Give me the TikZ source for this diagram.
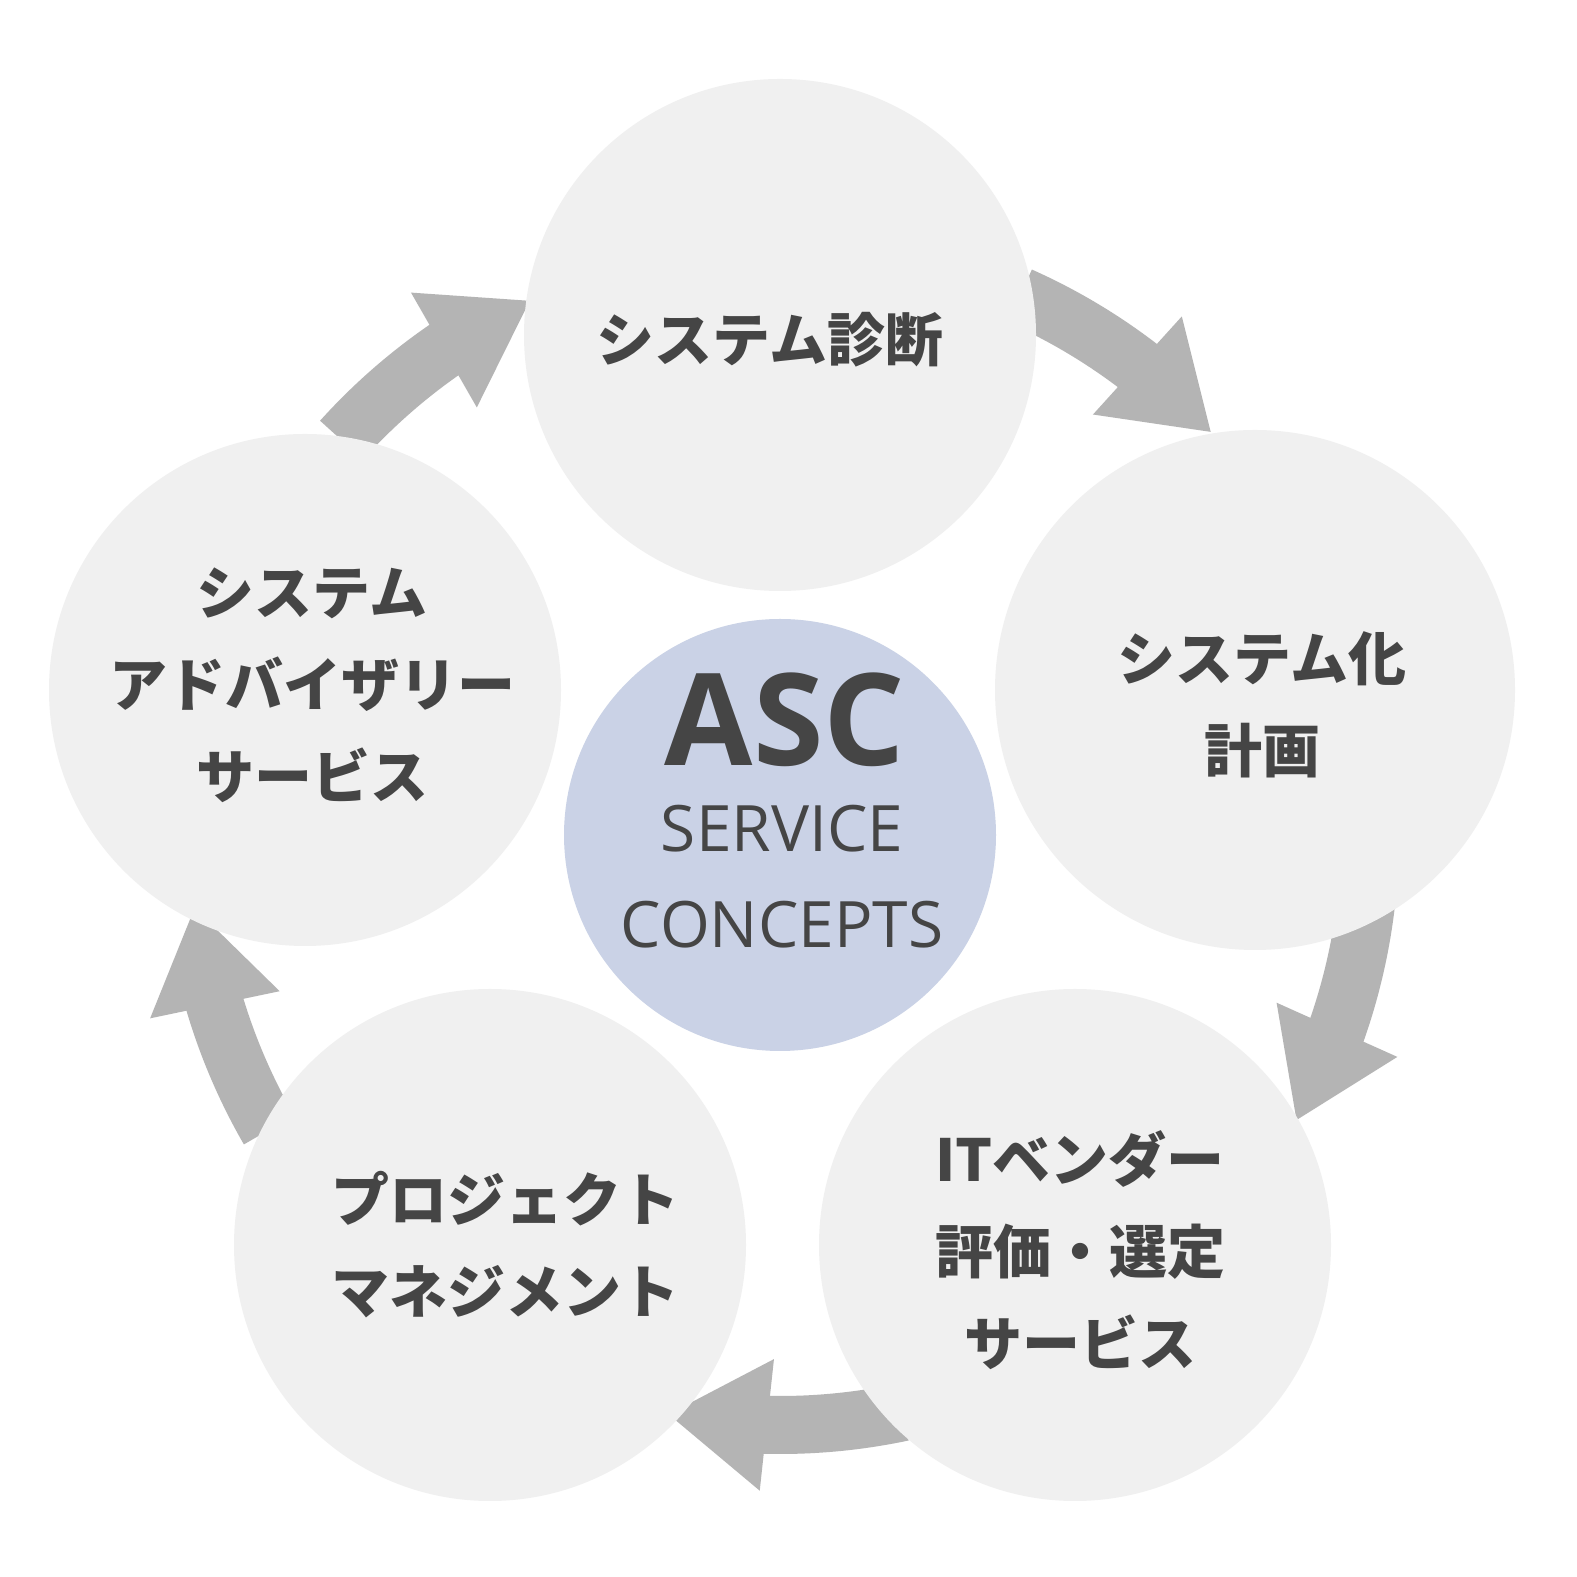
\documentclass[tikz,border=0pt]{standalone}
\usepackage{fontspec}
\newfontfamily\cjk{Noto Sans CJK JP}
\setsansfont{Open Sans}
\usetikzlibrary{arrows.meta,bending}
\definecolor{cbg}{HTML}{F0F0F0}
\definecolor{cmid}{HTML}{CAD2E6}
\definecolor{ctxt}{HTML}{454545}
\definecolor{carr}{HTML}{B4B4B4}
\tikzset{
  bub/.style={circle,fill=cbg,minimum size=#1},
  jtxt/.style={text=ctxt,align=center,font=\cjk\bfseries\fontsize{58}{92}\selectfont},
  arr/.style={draw=carr,line width=58pt,-{Triangle[length=100pt,width=125pt,flex]}}
}
\begin{document}
\begin{tikzpicture}[x=1pt,y=1pt]
\useasboundingbox (0,0) rectangle (1577,1577);
\fill[white] (0,0) rectangle (1577,1577);
\coordinate (o) at (780,742);
\foreach \a in {138,66,-6,-78,-150}{
  \draw[arr] (o) ++(\a:590) arc[start angle=\a,end angle=\a-23,radius=590];
}
\node[bub=512pt] (c1) at (780,1242) {};
\node[bub=520pt] (c2) at (1255,887) {};
\node[bub=512pt] (c3) at (1075,332) {};
\node[bub=512pt] (c4) at (490,332) {};
\node[bub=512pt] (c5) at (305,887) {};
\node[circle,fill=cmid,minimum size=432pt] (cm) at (o) {};
\node[jtxt] (t1) at (770,1237) {システム診断};
\node[jtxt] (t2) at (1262,872) {システム化\\計画};
\node[jtxt] (t3) at (1080,327) {ITベンダー\\評価・選定\\サービス};
\node[jtxt] (t4) at (505,332) {プロジェクト\\マネジメント};
\node[jtxt] (t5) at (312,892) {システム\\アドバイザリー\\サービス};
\node[text=ctxt,font=\sffamily\bfseries\fontsize{128}{128}\selectfont] (asc) at (785,857) {ASC};
\node[text=ctxt,align=center,font=\sffamily\fontsize{64}{96}\selectfont] (sc) at (782,700) {SERVICE\\CONCEPTS};
\end{tikzpicture}
\end{document}
